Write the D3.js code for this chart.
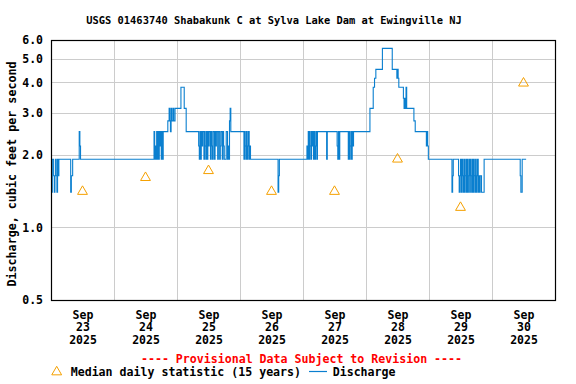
<!DOCTYPE html>
<html>
<head>
<meta charset="utf-8">
<script src="https://cdn.jsdelivr.net/npm/d3@7"></script>
<style>
body { margin: 0; background: #fff; }
svg { display: block; }
text { font-family: "DejaVu Sans Mono", "Liberation Mono", monospace; font-weight: bold; }
</style>
</head>
<body>
<svg id="chart" width="576" height="384"></svg>
<script>
// discharge, 15-minute steps: ["day hh:mm", cfs] at each change
var discharge = [
	["23 00:15", 1.4], ["23 00:30", 1.92], ["23 01:00", 1.64], ["23 01:15", 1.4], ["23 01:30", 1.64], ["23 01:45", 1.92],
	["23 02:00", 1.64], ["23 02:15", 1.4], ["23 02:30", 1.92], ["23 02:45", 1.64], ["23 03:00", 1.92],
	["23 07:30", 1.4], ["23 07:45", 1.64], ["23 08:15", 1.92],
	["23 10:45", 2.5], ["23 11:00", 2.18], ["23 11:15", 1.92],
	["24 15:15", 2.5], ["24 15:30", 1.92], ["24 15:45", 2.18], ["24 16:00", 1.92], ["24 16:15", 2.5], ["24 16:30", 1.92],
	["24 16:45", 2.5], ["24 17:00", 1.92], ["24 17:15", 2.5], ["24 17:30", 2.18], ["24 17:45", 2.5], ["24 18:00", 1.92],
	["24 18:15", 2.5], ["24 18:30", 1.92], ["24 18:45", 2.5],
	["24 20:30", 2.77], ["24 21:00", 3.12], ["24 21:15", 2.77], ["24 21:30", 2.5], ["24 21:45", 3.12], ["24 22:00", 2.77],
	["24 22:30", 3.12], ["24 22:45", 2.77], ["24 23:15", 3.12],
	["25 01:30", 3.82], ["25 02:45", 3.12], ["25 03:30", 2.5],
	["25 08:15", 2.18], ["25 08:30", 1.92], ["25 08:45", 2.5], ["25 09:00", 1.92], ["25 09:15", 2.5], ["25 09:30", 2.18],
	["25 09:45", 2.5], ["25 10:15", 1.92], ["25 10:30", 2.5], ["25 10:45", 2.18], ["25 11:00", 1.92], ["25 11:15", 2.5],
	["25 11:30", 1.92], ["25 11:45", 2.5], ["25 12:00", 2.18], ["25 12:15", 2.5], ["25 12:45", 1.92], ["25 13:00", 2.5],
	["25 13:15", 2.18], ["25 13:30", 1.92], ["25 13:45", 2.5], ["25 14:15", 1.92], ["25 14:30", 2.5], ["25 14:45", 2.18],
	["25 15:00", 2.5], ["25 15:30", 1.92], ["25 15:45", 2.5], ["25 16:15", 1.92], ["25 16:30", 2.18], ["25 16:45", 2.5],
	["25 17:15", 1.92], ["25 17:30", 2.5], ["25 17:45", 2.18], ["25 18:00", 1.92], ["25 18:45", 2.5], ["25 19:15", 1.92],
	["25 19:30", 2.18], ["25 19:45", 1.92], ["25 20:00", 2.77], ["25 20:15", 3.12], ["25 20:30", 2.5],
	["26 01:30", 1.92], ["26 01:45", 2.5], ["26 02:00", 2.18], ["26 02:15", 1.92], ["26 02:30", 2.5], ["26 02:45", 1.92],
	["26 03:00", 2.18], ["26 03:15", 2.5], ["26 03:30", 1.92], ["26 03:45", 2.18], ["26 04:00", 1.92],
	["26 14:30", 1.4], ["26 14:45", 1.64], ["26 15:00", 1.92],
	["27 01:30", 2.18], ["27 01:45", 1.92], ["27 02:00", 2.5], ["27 02:15", 1.92], ["27 02:30", 2.5], ["27 02:45", 2.18],
	["27 03:00", 1.92], ["27 03:15", 2.5], ["27 03:30", 2.18], ["27 03:45", 2.5], ["27 04:00", 1.92], ["27 04:15", 2.5],
	["27 04:30", 1.92], ["27 04:45", 2.18], ["27 05:00", 2.5], ["27 05:15", 1.92], ["27 05:30", 2.5],
	["27 09:00", 1.92], ["27 09:15", 2.5],
	["27 13:00", 2.18], ["27 13:15", 1.92], ["27 13:30", 2.5], ["27 13:45", 1.92], ["27 14:00", 2.5],
	["27 17:15", 1.92], ["27 17:30", 2.5], ["27 17:45", 1.92], ["27 18:00", 2.18], ["27 18:15", 2.5], ["27 18:30", 1.92],
	["27 18:45", 2.5], ["27 19:00", 2.18], ["27 19:15", 2.5],
	["28 01:30", 3.12], ["28 02:45", 3.82], ["28 03:15", 4.16], ["28 03:45", 4.53], ["28 06:15", 5.54], ["28 10:00", 4.53],
	["28 11:45", 4.16], ["28 12:00", 4.53], ["28 12:15", 4.16], ["28 12:30", 3.82], ["28 14:15", 3.44], ["28 14:30", 3.12],
	["28 14:45", 3.44], ["28 15:00", 3.12], ["28 15:15", 3.82], ["28 15:30", 3.12], ["28 18:15", 2.77], ["28 18:45", 2.5],
	["28 23:00", 2.18], ["28 23:15", 2.5], ["28 23:30", 2.18], ["28 23:45", 1.92],
	["29 08:45", 1.4], ["29 09:00", 1.64], ["29 09:15", 1.92],
	["29 11:15", 1.64], ["29 11:30", 1.4], ["29 11:45", 1.64], ["29 12:00", 1.92], ["29 12:15", 1.4], ["29 12:30", 1.92],
	["29 12:45", 1.64], ["29 13:00", 1.4], ["29 13:15", 1.92], ["29 13:30", 1.4], ["29 13:45", 1.64], ["29 14:00", 1.92],
	["29 14:15", 1.4], ["29 14:30", 1.92], ["29 14:45", 1.4], ["29 15:00", 1.64], ["29 15:15", 1.92], ["29 15:30", 1.4],
	["29 15:45", 1.92], ["29 16:00", 1.64], ["29 16:15", 1.4], ["29 16:30", 1.92], ["29 16:45", 1.4], ["29 17:00", 1.92],
	["29 17:15", 1.64], ["29 17:30", 1.4], ["29 17:45", 1.92], ["29 18:00", 1.4], ["29 18:15", 1.64], ["29 18:30", 1.92],
	["29 18:45", 1.4], ["29 19:00", 1.64], ["29 19:15", 1.4], ["29 19:30", 1.64], ["29 20:00", 1.4], ["29 21:00", 1.92],
	["30 10:45", 1.64], ["30 11:00", 1.4], ["30 11:30", 1.92], ["30 13:00", 1.92]
];

// median daily statistic, one per day (plotted at noon)
var medianDays = [23, 24, 25, 26, 27, 28, 29, 30];
var medianValues = [1.41, 1.61, 1.72, 1.41, 1.41, 1.92, 1.21, 3.97];

var yTicks = [0.5, 1.0, 2.0, 3.0, 4.0, 5.0, 6.0];
var yGrid = [1, 2, 3, 4, 5];
var dayLabels = [23, 24, 25, 26, 27, 28, 29, 30];

var title = "USGS 01463740 Shabakunk C at Sylva Lake Dam at Ewingville NJ";

function toDate(s) {
	return new Date(2025, 8, +s.slice(0, 2), +s.slice(3, 5), +s.slice(6, 8));
}

var svg = d3.select("#chart");
var pLeft = 51, pRight = 555, pTop = 40, pBottom = 300;

var x = d3.scaleTime()
	.domain([new Date(2025, 8, 23), new Date(2025, 9, 1)])
	.range([pLeft, pRight]);
var y = d3.scaleLog()
	.domain([0.5, 6])
	.range([pBottom, pTop]);

// grid
var grid = svg.append("g").attr("stroke", "#cccccc").attr("stroke-width", 1).attr("shape-rendering", "crispEdges");
grid.selectAll(".hg")
	.data(yGrid)
	.enter()
	.append("line")
	.attr("x1", pLeft).attr("x2", pRight)
	.attr("y1", function (d) { return Math.round(y(d)) + 0.5; })
	.attr("y2", function (d) { return Math.round(y(d)) + 0.5; });
grid.selectAll(".vg")
	.data(d3.range(24, 31))
	.enter()
	.append("line")
	.attr("y1", pTop).attr("y2", pBottom)
	.attr("x1", function (d) { return Math.round(x(new Date(2025, 8, d))) + 0.5; })
	.attr("x2", function (d) { return Math.round(x(new Date(2025, 8, d))) + 0.5; });

// discharge line
var pts = discharge.map(function (d) { return [toDate(d[0]), d[1]]; });
var line = d3.line()
	.x(function (d) { return x(d[0]); })
	.y(function (d) { return y(d[1]); })
	.curve(d3.curveStepAfter);
svg.append("path")
	.datum(pts)
	.attr("d", line)
	.attr("fill", "none")
	.attr("stroke", "#0a7fcf")
	.attr("stroke-width", 1.1);

// median triangles
var tri = d3.symbol().type(d3.symbolTriangle).size(42);
svg.selectAll(".med")
	.data(medianValues)
	.enter()
	.append("path")
	.attr("d", tri)
	.attr("transform", function (d, i) {
		return "translate(" + x(new Date(2025, 8, medianDays[i], 12)) + "," + y(d) + ")";
	})
	.attr("fill", "none")
	.attr("stroke", "#f5a000")
	.attr("stroke-width", 1);

// frame
svg.append("rect")
	.attr("x", pLeft + 0.5).attr("y", pTop + 0.5)
	.attr("width", pRight - pLeft).attr("height", pBottom - pTop)
	.attr("fill", "none").attr("stroke", "#000").attr("stroke-width", 1.2);

// y axis
var yAxis = svg.append("g")
	.attr("transform", "translate(" + (pLeft - 8) + ",0)")
	.call(d3.axisLeft(y).tickValues(yTicks).tickSize(0).tickPadding(0).tickFormat(d3.format(".1f")));
yAxis.select(".domain").remove();
yAxis.selectAll("text").attr("font-size", "11.5px").attr("fill", "#000").attr("font-family", null);

// x axis, three-line labels at noon
var xAxis = svg.append("g")
	.attr("transform", "translate(0," + pBottom + ")")
	.call(d3.axisBottom(x)
		.tickValues(dayLabels.map(function (d) { return new Date(2025, 8, d, 12); }))
		.tickSize(0).tickFormat(""));
xAxis.select(".domain").remove();
xAxis.selectAll(".tick").append("text")
	.attr("fill", "#000")
	.attr("font-size", "11.5px")
	.attr("text-anchor", "middle")
	.selectAll("tspan")
	.data(function (d) { return ["Sep", d.getDate(), "2025"]; })
	.enter()
	.append("tspan")
	.attr("x", 0)
	.attr("y", function (d, i) { return 18.5 + i * 12.8; })
	.text(function (d) { return d; });

// titles
svg.append("text")
	.attr("x", 274).attr("y", 23.5)
	.attr("text-anchor", "middle")
	.attr("font-size", "10.4px")
	.text(title);
svg.append("text")
	.attr("transform", "translate(16,174) rotate(-90)")
	.attr("text-anchor", "middle")
	.attr("font-size", "11.7px")
	.text("Discharge, cubic feet per second");
svg.append("text")
	.attr("x", 301.5).attr("y", 363)
	.attr("text-anchor", "middle")
	.attr("font-size", "11.6px")
	.attr("fill", "#ff0000")
	.text("---- Provisional Data Subject to Revision ----");

// legend
svg.append("path")
	.attr("d", tri)
	.attr("transform", "translate(56.7,372)")
	.attr("fill", "none")
	.attr("stroke", "#f5a000");
svg.append("text")
	.attr("x", 70.7).attr("y", 376)
	.attr("font-size", "11.6px")
	.text("Median daily statistic (15 years)");
svg.append("line")
	.attr("x1", 309).attr("x2", 327)
	.attr("y1", 371.5).attr("y2", 371.5)
	.attr("stroke", "#0a7fcf").attr("stroke-width", 1.2);
svg.append("text")
	.attr("x", 332.7).attr("y", 376)
	.attr("font-size", "11.6px")
	.text("Discharge");
</script>
</body>
</html>
